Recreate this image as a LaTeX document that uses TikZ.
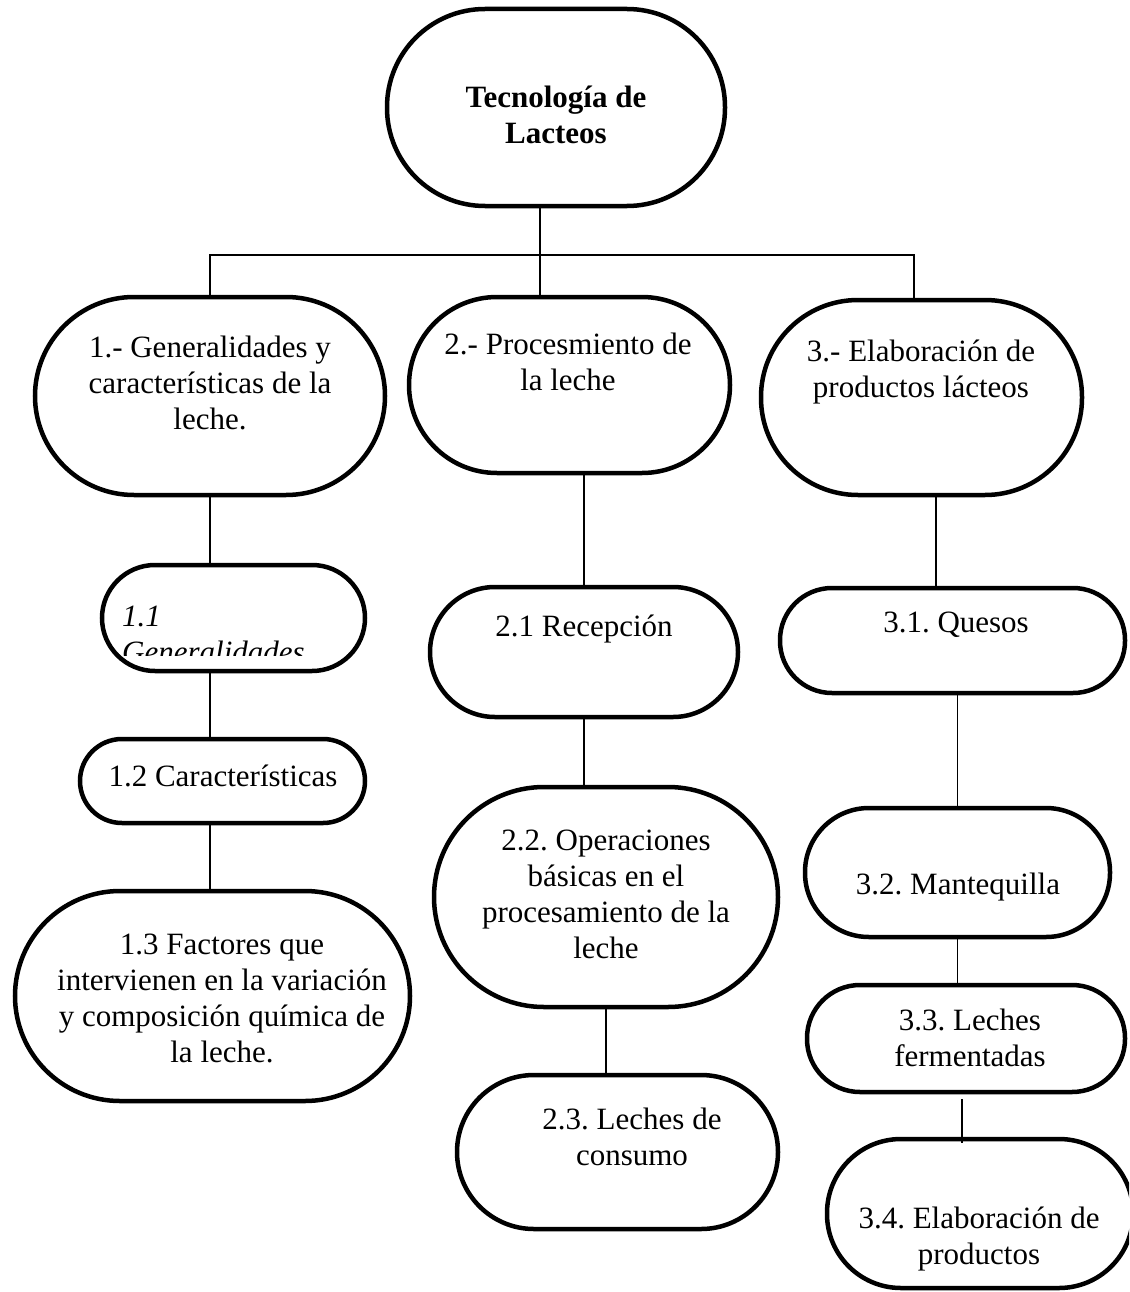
\documentclass[tikz,border=0pt]{standalone}
\usepackage{fontspec}
\setmainfont{Liberation Serif}
\frenchspacing
\begin{document}
\begin{tikzpicture}[x=1pt, y=-1pt,
    bubble/.style={draw, line width=4.5pt, inner sep=0pt},
    txt/.style={align=center, inner sep=0pt, font=\fontsize{31}{36}\selectfont},
    con/.style={line width=1.5pt}]
    \useasboundingbox (0,0) rectangle (1129,1292);
    \clip (0,0) rectangle (1129,1292);
    \begin{scope}
        \node[bubble, minimum width=338pt, minimum height=197pt, rounded corners=98pt] (tec) at (556,107.5) {};
        \node[txt, font=\fontsize{31}{36}\selectfont\bfseries] (tec-t) at (556,115) {Tecnología de\\Lacteos};

        \node[bubble, minimum width=350pt, minimum height=198pt, rounded corners=99pt] (gen) at (210,396) {};
        \node[txt] (gen-t) at (210,383) {1.- Generalidades y\\características de la\\leche.};
        \node[bubble, minimum width=321pt, minimum height=176pt, rounded corners=88pt] (proc) at (569.5,385) {};
        \node[txt] (proc-t) at (568,362) {2.- Procesmiento de\\la leche};
        \node[bubble, minimum width=321pt, minimum height=195pt, rounded corners=97pt] (elab) at (921.5,397.5) {};
        \node[txt] (elab-t) at (921,372) {3.- Elaboración de\\productos lácteos};

        \node[bubble, minimum width=263pt, minimum height=106pt, rounded corners=53pt] (gen1) at (233.5,618) {};
        \begin{scope}
            \clip (100,563) rectangle (367,655);
            \node[txt, align=left, anchor=north west, font=\fontsize{31}{36}\selectfont\itshape] (gen1-t) at (122,606) {1.1\\Generalidades};
        \end{scope}
        \node[bubble, minimum width=285pt, minimum height=84pt, rounded corners=42pt] (gen2) at (222.5,781) {};
        \node[txt] (gen2-t) at (223,776) {1.2 Características};
        \node[bubble, minimum width=395pt, minimum height=210pt, rounded corners=105pt] (gen3) at (212.5,996) {};
        \node[txt] (gen3-t) at (222,998) {1.3 Factores que\\intervienen en la variación\\y composición química de\\la leche.};

        \node[bubble, minimum width=308pt, minimum height=130pt, rounded corners=65pt] (proc1) at (584,652) {};
        \node[txt] (proc1-t) at (584,629) {2.1 Recepción};
        \node[bubble, minimum width=344pt, minimum height=220pt, rounded corners=110pt] (proc2) at (606,897) {};
        \node[txt] (proc2-t) at (606,894) {2.2. Operaciones\\básicas en el\\procesamiento de la\\leche};
        \node[bubble, minimum width=321pt, minimum height=154pt, rounded corners=77pt] (proc3) at (617.5,1152) {};
        \node[txt] (proc3-t) at (632,1137) {2.3. Leches de\\consumo};

        \node[bubble, minimum width=345pt, minimum height=105pt, rounded corners=52pt] (elab1) at (952.5,640.5) {};
        \node[txt] (elab1-t) at (956,624.5) {3.1. Quesos};
        \node[bubble, minimum width=305pt, minimum height=129pt, rounded corners=64pt] (elab2) at (957.5,872.5) {};
        \node[txt] (elab2-t) at (958,887) {3.2. Mantequilla};
        \node[bubble, minimum width=318pt, minimum height=107pt, rounded corners=53pt] (elab3) at (966,1038.5) {};
        \node[txt] (elab3-t) at (970,1037.5) {3.3. Leches\\fermentadas};
        \node[bubble, minimum width=306pt, minimum height=149pt, rounded corners=74pt] (elab4) at (980,1213.5) {};
        \node[txt] (elab4-t) at (979,1239) {3.4. Elaboración de\\productos};

        \coordinate (bar) at (540,255);
        \draw[con] ([xshift=-16pt]tec.south) -- ([xshift=-16pt]tec.south |- proc.north);
        \draw[con] (gen.north) |- (bar) -| ([xshift=-7.5pt]elab.north);

        \draw[con] (gen.south) -- (gen.south |- gen1.north);
        \draw[con] (gen1.south -| gen) -- (gen2.north -| gen);
        \draw[con] (gen2.south -| gen) -- (gen3.north -| gen);

        \draw[con] (proc.south -| proc1) -- (proc1.north);
        \draw[con] (proc1.south) -- (proc1.south |- proc2.north);
        \draw[con] (proc2.south) -- (proc2.south |- proc3.north);

        \draw[con] ([xshift=14.5pt]elab.south) -- ([xshift=14.5pt]elab.south |- elab1.north);
        \draw[con] (elab1.south -| elab2) -- (elab2.north);
        \draw[con] (elab2.south) -- (elab2.south |- elab3.north);
        \draw[con, line width=2pt] ([xshift=-4pt, yshift=-5pt]elab3.south) -- ([xshift=-4pt, yshift=-6pt]elab3.south |- elab4.north);
    \end{scope}
\end{tikzpicture}
\end{document}
